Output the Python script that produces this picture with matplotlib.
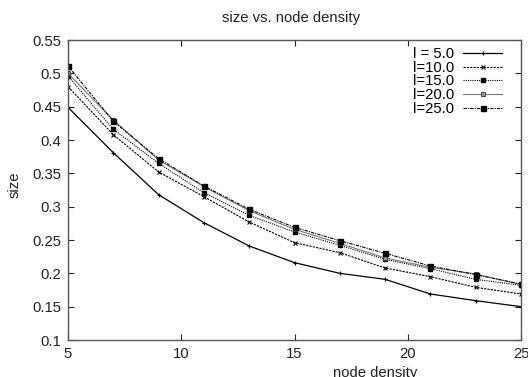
import matplotlib
matplotlib.use("Agg")
import matplotlib.pyplot as plt

plt.rcParams['font.family'] = ['Liberation Sans', 'DejaVu Sans']

# node density values
density = [5, 7, 9, 11, 13, 15, 17, 19, 21, 23, 25]

# size for each l
size_l5 = [0.449, 0.381, 0.318, 0.276, 0.241, 0.216, 0.200, 0.191, 0.169, 0.159, 0.150]
size_l10 = [0.480, 0.408, 0.352, 0.315, 0.277, 0.246, 0.231, 0.208, 0.195, 0.179, 0.169]
size_l15 = [0.496, 0.416, 0.365, 0.321, 0.287, 0.262, 0.242, 0.221, 0.207, 0.191, 0.182]
size_l20 = [0.500, 0.430, 0.370, 0.330, 0.294, 0.266, 0.245, 0.223, 0.209, 0.199, 0.183]
size_l25 = [0.511, 0.428, 0.372, 0.331, 0.296, 0.269, 0.249, 0.230, 0.211, 0.198, 0.184]

labels = ['l = 5.0', 'l=10.0', 'l=15.0', 'l=20.0', 'l=25.0']

W, H = 528, 377
fig = plt.figure(figsize=(W / 100, H / 100), dpi=100)
ax = fig.add_axes([68 / W, 1 - 340 / H, 453 / W, 300 / H])

ax.plot(density, size_l5, color='black', lw=0.9, ls='-', marker='+', ms=3, mew=0.8, label=labels[0])
ax.plot(density, size_l10, color='black', lw=0.8, ls=(0, (2, 1)), marker='x', ms=3, mew=0.8, label=labels[1])
ax.plot(density, size_l15, color='black', lw=0.8, ls=(0, (1, 1)), marker='s', ms=2.3, label=labels[2])
ax.plot(density, size_l20, color='#777777', lw=0.8, ls='-', marker='s', ms=3.3, mfc='#999999', mec='#444444', mew=0.7, label=labels[3])
ax.plot(density, size_l25, color='black', lw=0.8, ls=(0, (3, 1, 1, 1)), marker='s', ms=3.6, label=labels[4])

ax.set_xlim(5, 25)
ax.set_ylim(0.1, 0.55)
ax.set_xticks([5, 10, 15, 20, 25])
ax.set_yticks([0.1, 0.15, 0.2, 0.25, 0.3, 0.35, 0.4, 0.45, 0.5, 0.55])
ax.set_yticklabels(['0.1', '0.15', '0.2', '0.25', '0.3', '0.35', '0.4', '0.45', '0.5', '0.55'])
ax.tick_params(direction='in', top=True, right=True, length=4, width=0.8,
               labelsize=10.7, colors='#222222', pad=5)
for sp in ax.spines.values():
    sp.set_color('#555555')
    sp.set_linewidth(1.0)

# title and axis labels placed like the gnuplot output
fig.text(291 / W, 1 - 18 / H, 'size vs. node density', fontsize=10.7,
         ha='center', va='center', color='#222222')
fig.text(375 / W, 1 - 366 / H, 'node density', fontsize=10.7,
         ha='center', va='top', color='#222222')
fig.text(15 / W, 1 - 185 / H, 'size', fontsize=10.7, rotation=90,
         ha='center', va='center', color='#222222')

ax.legend(loc='upper right', frameon=False, markerfirst=False, fontsize=10.7,
          handlelength=2.6, handletextpad=0.6, labelspacing=-0.02,
          borderpad=0, borderaxespad=0,
          bbox_to_anchor=((502 - 68) / 453, (340 - 47) / 300))

fig.savefig('out.png', dpi=100)
